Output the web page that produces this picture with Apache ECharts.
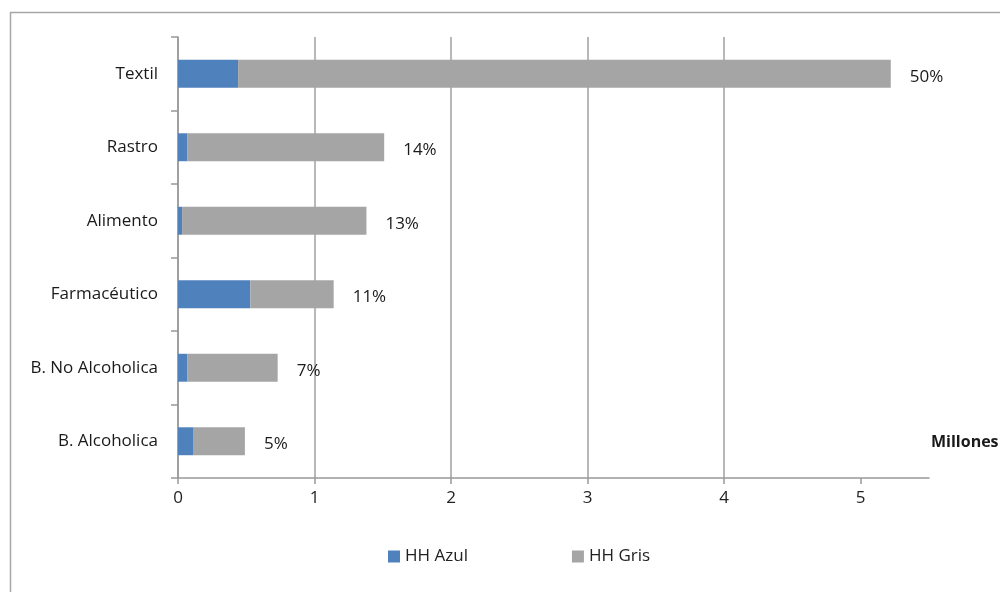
<!DOCTYPE html>
<html>
<head>
<meta charset="utf-8">
<script src="https://cdn.jsdelivr.net/npm/echarts@6/dist/echarts.min.js"></script>
<style>
html,body{margin:0;padding:0;background:#fff;}
#chart{width:1000px;height:592px;}
</style>
</head>
<body>
<div id="chart"></div>
<script>
const categories = ['B. Alcoholica', 'B. No Alcoholica', 'Farmacéutico', 'Alimento', 'Rastro', 'Textil'];
const azul = [0.11, 0.07, 0.53, 0.03, 0.07, 0.44];
const gris = [0.38, 0.66, 0.61, 1.35, 1.44, 4.78];
const pctLabels = ['5%', '7%', '11%', '13%', '14%', '50%'];
const xTicks = [0, 1, 2, 3, 4, 5];

const FONT = '"Open Sans", "Liberation Sans", sans-serif';
const chart = echarts.init(document.getElementById('chart'));
chart.setOption({
  animation: false,
  backgroundColor: '#fff',
  textStyle: { fontFamily: FONT },
  graphic: [
    { type: 'rect', shape: { x: 10.5, y: 12.5, width: 1100, height: 700 }, style: { fill: 'none', stroke: '#a6a6a6', lineWidth: 1.5 }, silent: true },
    { type: 'text', left: 931, top: 434, style: { text: 'Millones', font: 'bold 16px ' + FONT, fill: '#1a1a1a' } }
  ],
  grid: { left: 178, right: 71, top: 37, bottom: 114, containLabel: false },
  legend: {
    left: 388, top: 548, padding: 0, itemWidth: 12, itemHeight: 12, itemGap: 104,
    icon: 'rect',
    textStyle: { fontSize: 17, color: '#222', fontFamily: FONT },
    data: ['HH Azul', 'HH Gris']
  },
  xAxis: {
    type: 'value', min: 0, max: 5.5, interval: 1,
    axisLine: { show: true, lineStyle: { color: '#999', width: 1.5 } },
    axisTick: { show: true, length: 6, lineStyle: { color: '#999', width: 1.5 }, customValues: xTicks },
    axisLabel: { color: '#222', fontSize: 17, margin: 12, customValues: xTicks, fontFamily: FONT },
    splitLine: { show: true, showMaxLine: false, lineStyle: { color: '#a0a0a0', width: 1.5 } }
  },
  yAxis: {
    type: 'category', data: categories,
    axisLine: { show: true, lineStyle: { color: '#999', width: 1.5 } },
    axisTick: { show: true, length: 7, lineStyle: { color: '#999', width: 1.5 } },
    axisLabel: { color: '#1a1a1a', fontSize: 17, margin: 20, fontFamily: FONT }
  },
  series: [
    {
      name: 'HH Azul', type: 'bar', stack: 'total', data: azul, barWidth: '38%',
      itemStyle: { color: '#4f81bd' }
    },
    {
      name: 'HH Gris', type: 'bar', stack: 'total', data: gris, barWidth: '38%',
      itemStyle: { color: '#a5a5a5' },
      label: {
        show: true, position: 'right', distance: 19, offset: [0, 3],
        formatter: p => pctLabels[p.dataIndex],
        color: '#1a1a1a', fontSize: 17, fontFamily: FONT
      }
    }
  ]
});
</script>
</body>
</html>
